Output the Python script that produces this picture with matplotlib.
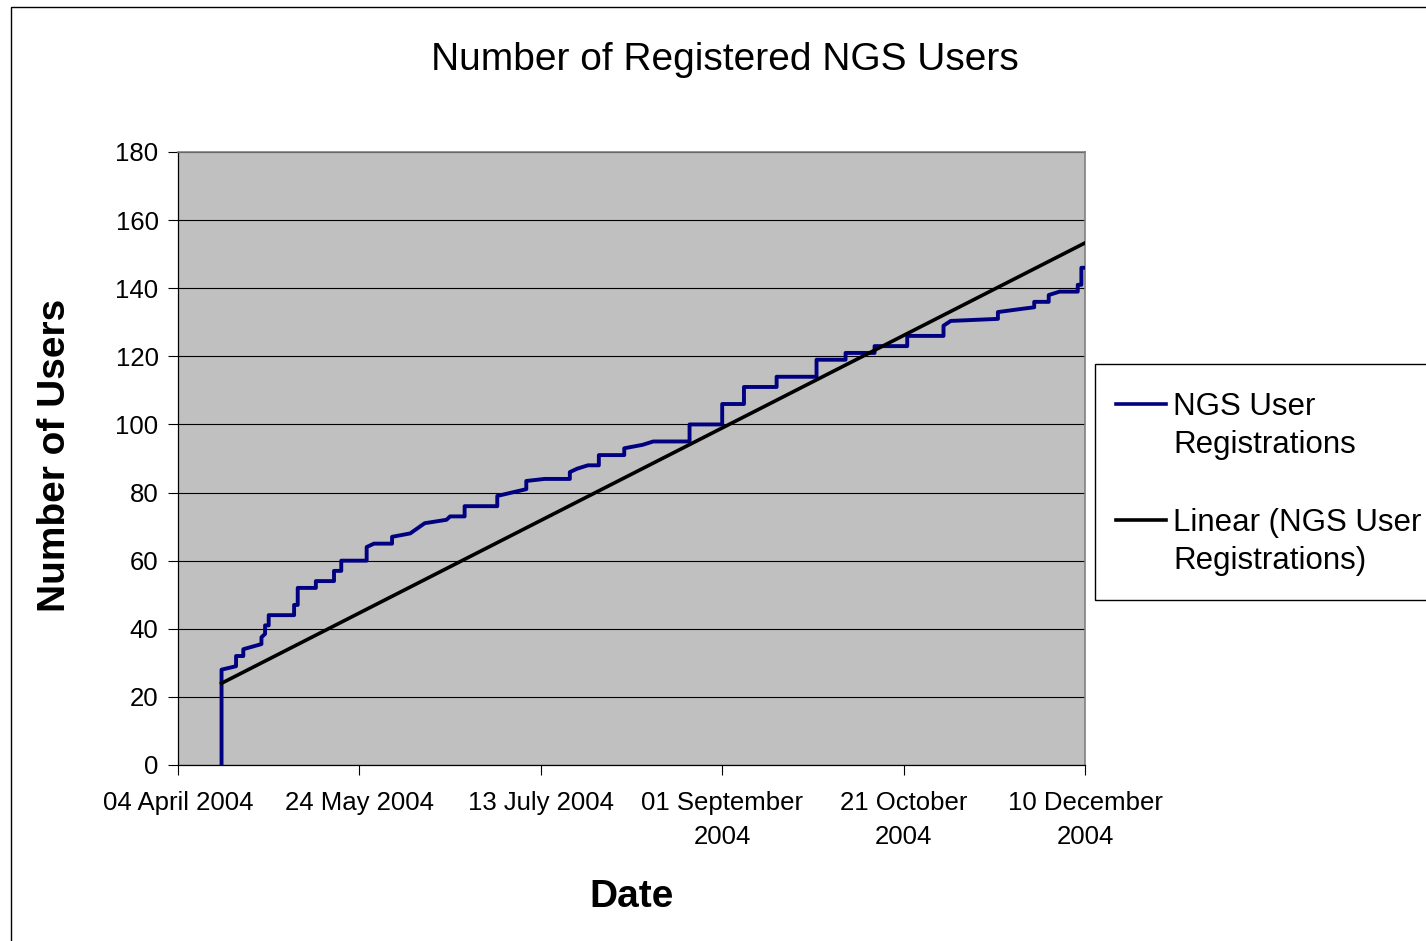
import matplotlib

matplotlib.use("Agg")
import matplotlib.pyplot as plt  # noqa: E402
import pandas as pd  # noqa: E402
from matplotlib.lines import Line2D  # noqa: E402
from matplotlib.patches import Rectangle  # noqa: E402

plt.rcParams["font.family"] = ["Liberation Sans", "DejaVu Sans"]

# cumulative registrations (repeated dates = vertical jumps)
reg_dates = [
    "2004-04-16", "2004-04-16", "2004-04-20", "2004-04-20", "2004-04-22",
    "2004-04-22", "2004-04-27", "2004-04-27", "2004-04-28", "2004-04-28",
    "2004-04-29", "2004-04-29", "2004-05-06", "2004-05-06", "2004-05-07",
    "2004-05-07", "2004-05-12", "2004-05-12", "2004-05-17", "2004-05-17",
    "2004-05-19", "2004-05-19", "2004-05-26", "2004-05-26", "2004-05-28",
    "2004-06-02", "2004-06-02", "2004-06-07", "2004-06-11", "2004-06-17",
    "2004-06-18", "2004-06-22", "2004-06-22", "2004-07-01", "2004-07-01",
    "2004-07-05", "2004-07-09", "2004-07-09", "2004-07-14", "2004-07-21",
    "2004-07-21", "2004-07-23", "2004-07-26", "2004-07-29", "2004-07-29",
    "2004-08-05", "2004-08-05", "2004-08-10", "2004-08-13", "2004-08-23",
    "2004-08-23", "2004-09-01", "2004-09-01", "2004-09-07", "2004-09-07",
    "2004-09-16", "2004-09-16", "2004-09-27", "2004-09-27", "2004-10-05",
    "2004-10-05", "2004-10-13", "2004-10-13", "2004-10-22", "2004-10-22",
    "2004-11-01", "2004-11-01", "2004-11-03", "2004-11-16", "2004-11-16",
    "2004-11-23", "2004-11-26", "2004-11-26", "2004-11-30", "2004-11-30",
    "2004-12-03", "2004-12-08", "2004-12-08", "2004-12-09", "2004-12-09",
    "2004-12-10",
]
reg_users = [
    0, 28, 29, 32, 32,
    34, 35.5, 37.5, 38.5, 41,
    41, 44, 44, 47, 47,
    52, 52, 54, 54, 57,
    57, 60, 60, 64, 65,
    65, 67, 68, 71, 72,
    73, 73, 76, 76, 79,
    80, 81, 83.4, 84, 84,
    86, 87, 88, 88, 91,
    91, 93, 94, 95, 95,
    100, 100, 106, 106, 111,
    111, 114, 114, 119, 119,
    121, 121, 123, 123, 126,
    126, 129, 130.4, 131, 133,
    134, 134.4, 136, 136, 138,
    139, 139, 141, 141, 146,
    146,
]

# linear trend end points
trend_dates = ["2004-04-16", "2004-12-10"]
trend_users = [24.0, 153.3]

tick_dates = ["2004-04-04", "2004-05-24", "2004-07-13",
              "2004-09-01", "2004-10-21", "2004-12-10"]
tick_labels = ["04 April 2004", "24 May 2004", "13 July 2004",
               "01 September\n2004", "21 October\n2004", "10 December\n2004"]
y_ticks = [0, 20, 40, 60, 80, 100, 120, 140, 160, 180]

series_label = "NGS User\nRegistrations"
trend_label = "Linear (NGS User\nRegistrations)"

W, H = 1426, 941
fig = plt.figure(figsize=(W / 100, H / 100), dpi=100)
fig.patch.set_facecolor("white")

# outer chart-area border
fig.add_artist(Rectangle((11 / W, -0.01), 1.0, 1 - 7 / H + 0.01,
                         transform=fig.transFigure, fill=False,
                         edgecolor="black", linewidth=1.0))

ax = fig.add_axes([178 / W, 1 - 765 / H, 907 / W, 613 / H])
ax.set_facecolor("#C0C0C0")

x_reg = pd.to_datetime(reg_dates)
x_trend = pd.to_datetime(trend_dates)
ax.plot(x_reg, reg_users, color="#000080", linewidth=2.8,
        solid_joinstyle="round", zorder=3)
ax.plot(x_trend, trend_users, color="black", linewidth=2.6, zorder=4)

ax.set_xlim(pd.Timestamp(tick_dates[0]), pd.Timestamp(tick_dates[-1]))
ax.set_ylim(0, 180)
ax.set_yticks(y_ticks)
ax.set_xticks(pd.to_datetime(tick_dates))
ax.set_xticklabels(tick_labels, linespacing=1.53)

ax.yaxis.grid(True, color="black", linewidth=0.8)
ax.set_axisbelow(True)

ax.tick_params(axis="y", direction="out", length=7, width=0.8,
               labelsize=18.5, pad=7)
ax.tick_params(axis="x", direction="out", length=7, width=0.8,
               labelsize=18.5, pad=12)

for side in ("top", "right"):
    ax.spines[side].set_color("#808080")
    ax.spines[side].set_linewidth(1.2)
for side in ("left", "bottom"):
    ax.spines[side].set_color("black")
    ax.spines[side].set_linewidth(0.9)

fig.text(725 / W, 1 - 60 / H, "Number of Registered NGS Users",
         ha="center", va="center", fontsize=28)
fig.text(55 / W, 1 - 455 / H, "Number of Users", rotation=90,
         ha="center", va="center", fontsize=28, fontweight="bold")
fig.text(632 / W, 1 - 897 / H, "Date", ha="center", va="center",
         fontsize=28, fontweight="bold")

# legend box drawn by hand so the keys sit on the first text line
fig.add_artist(Rectangle((1095 / W, 1 - 600 / H), 0.5, 236 / H,
                         transform=fig.transFigure, facecolor="white",
                         edgecolor="black", linewidth=1.0))
for y_px, color, label in [(404, "#000080", series_label),
                           (520, "black", trend_label)]:
    fig.add_artist(Line2D([1116 / W, 1166 / W], [1 - y_px / H] * 2,
                          transform=fig.transFigure, color=color,
                          linewidth=2.6))
    fig.text(1173 / W, 1 - (y_px - 12) / H, label, ha="left", va="top",
             fontsize=22.5, linespacing=1.33)

fig.savefig("out.png", dpi=100)
